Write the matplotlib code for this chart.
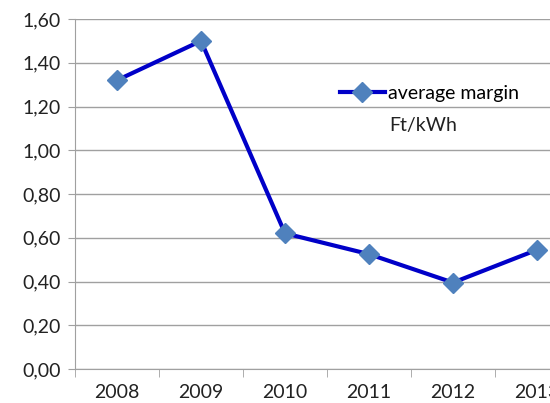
import numpy as np
import matplotlib
matplotlib.use("Agg")
import matplotlib.pyplot as plt

years = ["2008", "2009", "2010", "2011", "2012", "2013"]
margin = [1.32, 1.50, 0.62, 0.525, 0.395, 0.545]
yticks = [0.0, 0.2, 0.4, 0.6, 0.8, 1.0, 1.2, 1.4, 1.6]

plt.rcParams["font.family"] = ["Lato", "DejaVu Sans"]
plt.rcParams["font.size"] = 14

fig = plt.figure(figsize=(5.5, 4.03), dpi=100)
# plot area runs past the right edge, like the original screenshot
ax = fig.add_axes([75 / 550, 34 / 403, 504 / 550, 350 / 403])

x = np.arange(len(years))
ax.plot(x, margin, color="#0000C8", lw=3, marker="D", ms=10,
        mfc="#4F81BD", mec="#4F81BD", label="average margin", zorder=3)

ax.set_xlim(-0.5, len(years) - 0.5)
ax.set_ylim(0, 1.6)
ax.set_yticks(yticks)
ax.set_yticklabels([f"{v:.2f}".replace(".", ",") for v in yticks])
ax.set_xticks(x)
ax.set_xticklabels(years)
ax.set_xticks(np.arange(-0.5, len(years), 1.0), minor=True)

gc = "#A0A0A0"
ax.grid(axis="y", color=gc, lw=1)
ax.set_axisbelow(True)
for s in ["top", "right"]:
    ax.spines[s].set_visible(False)
for s in ["left", "bottom"]:
    ax.spines[s].set_color(gc)
ax.tick_params(axis="y", length=5, color=gc, pad=5, labelcolor="#222222")
ax.tick_params(axis="x", which="major", length=0, pad=11, labelcolor="#222222")
ax.tick_params(axis="x", which="minor", length=6, color=gc)

leg = fig.legend(loc="center left", bbox_to_anchor=(340 / 550, 1 - 93 / 403),
                 frameon=False, handlelength=2.3, handletextpad=0.15,
                 borderpad=0, borderaxespad=0)
fig.text(389 / 550, 1 - 125 / 403, "Ft/kWh", va="center", ha="left",
         color="#222222")

fig.savefig("out.png", dpi=100)
